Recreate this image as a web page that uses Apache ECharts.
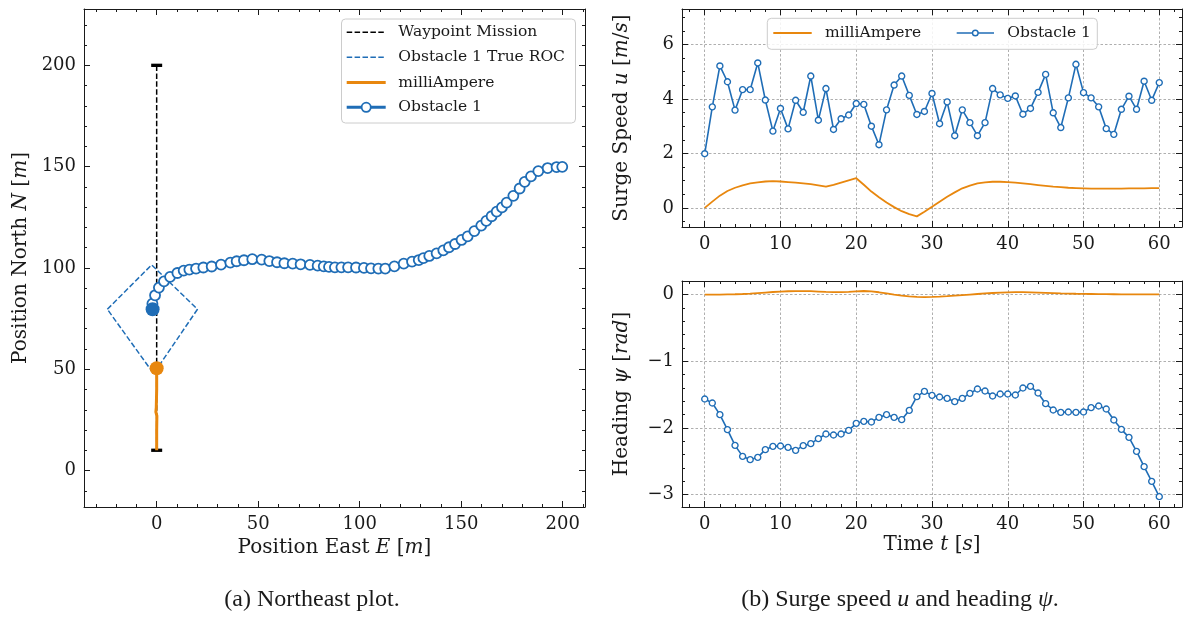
<!DOCTYPE html>
<html>
<head>
<meta charset="utf-8">
<script src="https://cdn.jsdelivr.net/npm/echarts@6/dist/echarts.min.js"></script>
<style>
  html, body { margin: 0; padding: 0; background: #ffffff; }
  #chart { width: 1190px; height: 617px; }
</style>
</head>
<body>
<div id="chart"></div>
<script>
// ---- Northeast plot data [m] ----
const waypointEast = [0, 0];
const waypointNorth = [10, 200];
// True region of collision around obstacle 1 (closed polygon)
const rocEast = [-24.3, -2.5, 20.1, -1.5, -24.3];
const rocNorth = [79.6, 101.5, 79.6, 47.8, 79.6];
// Own ship (milliAmpere) track
const ownEast = [0, 0, 0.1, -0.4, -0.2, 0, 0];
const ownNorth = [10, 20, 27, 29, 31, 40, 50.5];
// Obstacle 1 track
const obsEast = [-2.0, -2.1, -0.8, 1.1, 3.6, 6.6, 10.2, 13.3, 16.1, 19.4, 23.0, 27.1, 31.7, 36.3, 39.4, 43.0,
  47.1, 51.7, 55.5, 59.3, 62.9, 67.0, 70.9, 75.5, 79.3, 82.3, 84.9, 87.8, 91.0, 94.3, 98.2, 102.1, 105.6,
  109.2, 112.6, 117.1, 121.7, 125.8, 129.1, 131.4, 134.3, 137.9, 141.2, 144.0, 147.0, 150.2, 153.2, 156.5,
  159.9, 162.4, 165.0, 167.5, 170.1, 172.4, 175.7, 178.8, 181.3, 184.4, 188.0, 192.6, 197.0, 199.8];
const obsNorth = [79.6, 82.4, 86.5, 90.3, 93.4, 95.6, 97.5, 98.7, 99.2, 99.7, 100.2, 100.7, 101.6, 102.6, 103.3,
  103.8, 104.3, 104.1, 103.4, 102.8, 102.3, 102.1, 101.8, 101.5, 101.1, 100.8, 100.5, 100.3, 100.3, 100.3,
  100.2, 100.0, 99.8, 99.7, 99.7, 100.8, 102.1, 103.1, 103.9, 104.8, 105.9, 107.2, 108.7, 110.2, 111.8, 113.8,
  115.6, 118.2, 120.9, 123.2, 125.5, 127.8, 129.9, 132.2, 135.6, 139.2, 142.5, 145.2, 147.8, 149.3, 149.8, 149.9];

// ---- Time series ----
const timeS = [0, 1, 2, 3, 4, 5, 6, 7, 8, 9, 10, 11, 12, 13, 14, 15, 16, 17, 18, 19, 20, 21, 22, 23, 24, 25, 26,
  27, 28, 29, 30, 31, 32, 33, 34, 35, 36, 37, 38, 39, 40, 41, 42, 43, 44, 45, 46, 47, 48, 49, 50, 51, 52, 53,
  54, 55, 56, 57, 58, 59, 60];
// Surge speed u [m/s]
const surgeOwn = [0.00, 0.23, 0.45, 0.62, 0.74, 0.83, 0.90, 0.94, 0.97, 0.98, 0.97, 0.95, 0.93, 0.90, 0.87,
  0.83, 0.78, 0.85, 0.93, 1.01, 1.09, 0.85, 0.60, 0.39, 0.20, 0.03, -0.12, -0.23, -0.31, -0.14, 0.04, 0.23,
  0.41, 0.57, 0.72, 0.82, 0.90, 0.94, 0.96, 0.96, 0.95, 0.93, 0.90, 0.87, 0.84, 0.81, 0.78, 0.76, 0.74, 0.73,
  0.72, 0.71, 0.71, 0.71, 0.71, 0.71, 0.72, 0.72, 0.72, 0.73, 0.73];
const surgeObs = [1.99, 3.71, 5.21, 4.63, 3.59, 4.34, 4.34, 5.32, 3.96, 2.82, 3.65, 2.90, 3.95, 3.51, 4.84,
  3.22, 4.38, 2.88, 3.27, 3.41, 3.83, 3.80, 3.00, 2.32, 3.60, 4.51, 4.84, 4.13, 3.43, 3.54, 4.20, 3.09, 3.89,
  2.65, 3.60, 3.13, 2.65, 3.13, 4.38, 4.15, 4.02, 4.11, 3.44, 3.65, 4.24, 4.90, 3.49, 2.95, 4.04, 5.27, 4.23,
  4.04, 3.71, 2.91, 2.70, 3.62, 4.10, 3.62, 4.65, 3.95, 4.60];
// Heading psi [rad]
const headingOwn = [0.000, 0.000, 0.002, 0.004, 0.006, 0.010, 0.016, 0.024, 0.032, 0.040, 0.046, 0.051,
  0.054, 0.054, 0.052, 0.047, 0.041, 0.037, 0.038, 0.043, 0.050, 0.055, 0.050, 0.036, 0.018, 0.000, -0.015,
  -0.027, -0.034, -0.036, -0.034, -0.029, -0.022, -0.014, -0.006, 0.002, 0.010, 0.018, 0.025, 0.031, 0.035,
  0.037, 0.037, 0.035, 0.032, 0.028, 0.024, 0.020, 0.017, 0.014, 0.012, 0.010, 0.008, 0.007, 0.006, 0.005,
  0.004, 0.004, 0.003, 0.003, 0.003];
const headingObs = [-1.565, -1.625, -1.80, -2.025, -2.26, -2.425, -2.475, -2.44, -2.325, -2.275, -2.27, -2.29,
  -2.335, -2.265, -2.235, -2.16, -2.09, -2.105, -2.09, -2.035, -1.93, -1.90, -1.91, -1.84, -1.80, -1.84,
  -1.875, -1.735, -1.53, -1.45, -1.51, -1.535, -1.555, -1.605, -1.555, -1.48, -1.415, -1.445, -1.52, -1.49,
  -1.49, -1.505, -1.40, -1.375, -1.475, -1.635, -1.73, -1.765, -1.76, -1.765, -1.76, -1.695, -1.67, -1.715,
  -1.88, -2.02, -2.14, -2.35, -2.58, -2.80, -3.03];

// ---- Tick values ----
const neMajorE = [0, 50, 100, 150, 200];
const neMinorE = [-30, -20, -10, 10, 20, 30, 40, 60, 70, 80, 90, 110, 120, 130, 140, 160, 170, 180, 190, 210];
const neMajorN = [0, 50, 100, 150, 200];
const neMinorN = [-10, 10, 20, 30, 40, 60, 70, 80, 90, 110, 120, 130, 140, 160, 170, 180, 190, 210, 220];
const timeMajor = [0, 10, 20, 30, 40, 50, 60];
const timeMinor = [-2, 2, 4, 6, 8, 12, 14, 16, 18, 22, 24, 26, 28, 32, 34, 36, 38, 42, 44, 46, 48, 52, 54, 56, 58, 62];
const surgeMajor = [0, 2, 4, 6];
const surgeMinor = [-0.5, 0.5, 1, 1.5, 2.5, 3, 3.5, 4.5, 5, 5.5, 6.5, 7];
const headingMajor = [0, -1, -2, -3];
const headingMinor = [0.2, -0.2, -0.4, -0.6, -0.8, -1.2, -1.4, -1.6, -1.8, -2.2, -2.4, -2.6, -2.8, -3.2];

// ---- Style ----
const FONT = 'DejaVu Serif';
const INK = '#1a1a1a';
const BLUE = '#1f6db6';
const ORANGE = '#e8870e';

function fmt(v) { return v < 0 ? '\u2212' + Math.abs(v) : String(v); }

function nameStyle() {
  return {
    fontFamily: FONT, fontSize: 20, color: INK,
    rich: {
      r: { fontFamily: FONT, fontSize: 20, color: INK },
      i: { fontFamily: FONT, fontSize: 20, color: INK, fontStyle: 'italic' }
    }
  };
}

// Four axes per dimension: labelled major, minor, and mirrored major/minor on the opposite side
function axisSet(dim, grid, min, max, major, minor, name, nameGap, gridLines) {
  const pos = dim === 'x' ? ['bottom', 'top'] : ['left', 'right'];
  const base = { type: 'value', gridIndex: grid, min: min, max: max };
  const line = { show: true, onZero: false, lineStyle: { color: INK, width: 1 } };
  const noLine = { show: false, onZero: false };
  const majTick = { show: true, inside: true, length: 6, customValues: major, lineStyle: { color: INK, width: 1 } };
  const minTick = { show: true, inside: true, length: 3, customValues: minor, lineStyle: { color: INK, width: 1 } };
  return [
    Object.assign({}, base, {
      position: pos[0], name: name, nameLocation: 'middle', nameGap: nameGap,
      nameRotate: dim === 'y' ? 90 : 0, nameTextStyle: nameStyle(),
      axisLine: line, axisTick: majTick,
      axisLabel: { show: true, customValues: major, formatter: fmt, margin: 8, fontFamily: FONT, fontSize: 18, color: INK },
      splitLine: { show: gridLines, lineStyle: { color: '#9a9a9a', width: 0.8, type: [2.5, 2] } }
    }),
    Object.assign({}, base, { position: pos[0], axisLine: noLine, axisTick: minTick, axisLabel: { show: false }, splitLine: { show: false } }),
    Object.assign({}, base, { position: pos[1], axisLine: line, axisTick: majTick, axisLabel: { show: false }, splitLine: { show: false } }),
    Object.assign({}, base, { position: pos[1], axisLine: noLine, axisTick: minTick, axisLabel: { show: false }, splitLine: { show: false } })
  ];
}

const xAxes = [].concat(
  axisSet('x', 0, -35.8, 211, neMajorE, neMinorE, '{r|Position East }{i|E}{r| [}{i|m}{r|]}', 28, false),
  axisSet('x', 1, -3, 63, timeMajor, timeMinor, '', 0, true),
  axisSet('x', 2, -3, 63, timeMajor, timeMinor, '{r|Time }{i|t}{r| [}{i|s}{r|]}', 28, true)
);
const yAxes = [].concat(
  axisSet('y', 0, -18, 227.8, neMajorN, neMinorN, '{r|Position North }{i|N}{r| [}{i|m}{r|]}', 53, false),
  axisSet('y', 1, -0.7, 7.3, surgeMajor, surgeMinor, '{r|Surge Speed }{i|u}{r| [}{i|m}{r|/}{i|s}{r|]}', 50, true),
  axisSet('y', 2, -3.185, 0.205, headingMajor, headingMinor, '{r|Heading }{i|\u03c8}{r| [}{i|rad}{r|]}', 50, true)
);

function zip(a, b) { return a.map((v, i) => [v, b[i]]); }

const series = [
  // Northeast plot
  { type: 'line', xAxisIndex: 0, yAxisIndex: 0, data: zip(waypointEast, waypointNorth),
    lineStyle: { color: '#000', width: 1.5, type: [5.5, 2.4] },
    symbol: 'rect', symbolSize: [11, 3.3], itemStyle: { color: '#000' }, z: 2 },
  { type: 'line', xAxisIndex: 0, yAxisIndex: 0, data: zip(rocEast, rocNorth),
    lineStyle: { color: BLUE, width: 1.5, type: [5.5, 2.4] }, showSymbol: false, symbol: 'none', z: 2 },
  { type: 'line', xAxisIndex: 0, yAxisIndex: 0, data: zip(ownEast, ownNorth),
    lineStyle: { color: ORANGE, width: 3 }, symbol: 'none', z: 3 },
  { type: 'line', xAxisIndex: 0, yAxisIndex: 0, data: zip(obsEast, obsNorth),
    lineStyle: { color: BLUE, width: 2 }, symbol: 'circle', symbolSize: 10,
    itemStyle: { color: '#ffffff', borderColor: BLUE, borderWidth: 1.8 }, z: 4 },
  { type: 'scatter', xAxisIndex: 0, yAxisIndex: 0,
    data: [[ownEast[ownEast.length - 1], ownNorth[ownNorth.length - 1]]],
    symbol: 'circle', symbolSize: 14, itemStyle: { color: ORANGE, opacity: 1 }, z: 5 },
  { type: 'scatter', xAxisIndex: 0, yAxisIndex: 0,
    data: [[obsEast[0], obsNorth[0]]],
    symbol: 'circle', symbolSize: 14, itemStyle: { color: BLUE, opacity: 1 }, z: 5 },
  // Surge speed
  { type: 'line', xAxisIndex: 4, yAxisIndex: 4, data: zip(timeS, surgeOwn),
    lineStyle: { color: ORANGE, width: 1.8 }, symbol: 'none', z: 3 },
  { type: 'line', xAxisIndex: 4, yAxisIndex: 4, data: zip(timeS, surgeObs),
    lineStyle: { color: BLUE, width: 1.6 }, symbol: 'circle', symbolSize: 6,
    itemStyle: { color: '#ffffff', borderColor: BLUE, borderWidth: 1.4 }, z: 4 },
  // Heading
  { type: 'line', xAxisIndex: 8, yAxisIndex: 8, data: zip(timeS, headingOwn),
    lineStyle: { color: ORANGE, width: 1.8 }, symbol: 'none', z: 3 },
  { type: 'line', xAxisIndex: 8, yAxisIndex: 8, data: zip(timeS, headingObs),
    lineStyle: { color: BLUE, width: 1.6 }, symbol: 'circle', symbolSize: 6,
    itemStyle: { color: '#ffffff', borderColor: BLUE, borderWidth: 1.4 }, z: 4 }
];

// Legends and captions
const LEG_FONT = '15.5px "DejaVu Serif"';
function legText(x, y, t) {
  return { type: 'text', x: x, y: y, z: 101, style: { text: t, font: LEG_FONT, fill: INK, verticalAlign: 'middle', align: 'left' } };
}
function legLine(x1, x2, y, color, width, dash) {
  return { type: 'line', z: 101, shape: { x1: x1, y1: y, x2: x2, y2: y },
    style: { stroke: color, lineWidth: width, lineDash: dash || null } };
}
function legCircle(cx, cy, r, lw) {
  return { type: 'circle', z: 102, shape: { cx: cx, cy: cy, r: r }, style: { fill: '#ffffff', stroke: BLUE, lineWidth: lw } };
}
const graphics = [
  { type: 'rect', z: 100, shape: { x: 341.5, y: 19, width: 234, height: 104, r: 4 },
    style: { fill: 'rgba(255,255,255,0.85)', stroke: '#cccccc', lineWidth: 1 } },
  legLine(346.7, 385.7, 32.3, '#000000', 1.5, [5.5, 2.4]), legText(398.3, 32.3, 'Waypoint Mission'),
  legLine(346.7, 385.7, 57.3, BLUE, 1.5, [5.5, 2.4]), legText(398.3, 57.3, 'Obstacle 1 True ROC'),
  legLine(346.7, 385.7, 82.5, ORANGE, 3), legText(398.3, 82.5, 'milliAmpere'),
  legLine(346.7, 385.7, 107.3, BLUE, 3), legCircle(366.2, 107.3, 4.6, 1.8), legText(398.3, 107.3, 'Obstacle 1'),

  { type: 'rect', z: 100, shape: { x: 767.3, y: 18.3, width: 330, height: 31, r: 4 },
    style: { fill: 'rgba(255,255,255,0.85)', stroke: '#cccccc', lineWidth: 1 } },
  legLine(773.3, 811.7, 33, ORANGE, 1.8), legText(825, 33, 'milliAmpere'),
  legLine(956.7, 994, 33, BLUE, 1.6), legCircle(975.3, 33, 2.8, 1.4), legText(1007.3, 33, 'Obstacle 1'),

  { type: 'text', x: 312, y: 600, z: 101,
    style: { text: '(a) Northeast plot.', fontFamily: 'Liberation Serif', fontSize: 24, fill: INK,
      align: 'center', verticalAlign: 'middle' } },
  { type: 'text', x: 900, y: 600, z: 101,
    style: { text: '(b) Surge speed {i|u} and heading {i|\u03c8}.', fontFamily: 'Liberation Serif', fontSize: 24, fill: INK,
      align: 'center', verticalAlign: 'middle',
      rich: { i: { fontFamily: 'Liberation Serif', fontSize: 24, fontStyle: 'italic', fill: INK } } } }
];

const chart = echarts.init(document.getElementById('chart'), null, { renderer: 'canvas' });
chart.setOption({
  animation: false,
  backgroundColor: '#ffffff',
  grid: [
    { left: 84, top: 9, width: 501, height: 498, containLabel: false, outerBoundsMode: 'none' },
    { left: 682, top: 9, width: 500, height: 218, containLabel: false, outerBoundsMode: 'none' },
    { left: 682, top: 281, width: 500, height: 226, containLabel: false, outerBoundsMode: 'none' }
  ],
  xAxis: xAxes,
  yAxis: yAxes,
  series: series,
  graphic: graphics
});
</script>
</body>
</html>
